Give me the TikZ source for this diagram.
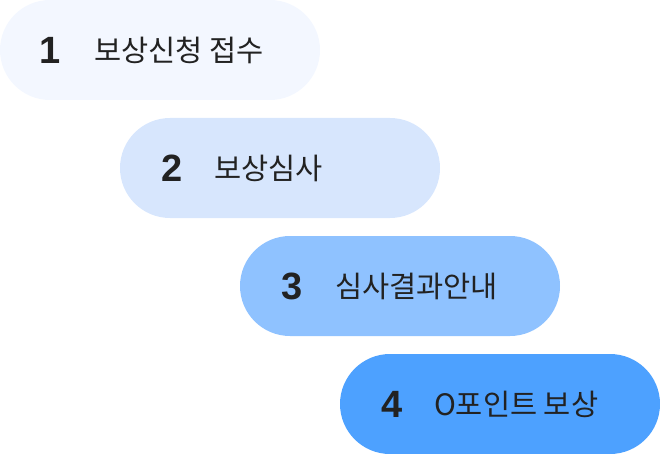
\documentclass[tikz,border=0pt]{standalone}
\usepackage{fontspec}
\setmainfont{Noto Sans CJK KR}
\newfontfamily\numfont{Liberation Sans}
\usetikzlibrary{positioning}
\definecolor{stepA}{HTML}{F3F7FF}
\definecolor{stepB}{HTML}{D7E6FD}
\definecolor{stepC}{HTML}{8FC2FF}
\definecolor{stepD}{HTML}{4DA1FF}
\definecolor{ink}{HTML}{222222}
\begin{document}
\begin{tikzpicture}[%
        x=1pt,y=-1pt,%
        pill/.style={%
            rectangle,%
            rounded corners=50pt,%
            minimum width=320pt,%
            minimum height=100pt,%
            inner sep=0pt,%
            draw=none%
        },%
        num/.style={%
            text=ink,%
            inner sep=0pt,%
            font=\numfont\bfseries\fontsize{38}{38}\selectfont%
        },%
        label/.style={%
            text=ink,%
            anchor=west,%
            inner sep=0pt,%
            font=\fontsize{29.5}{29.5}\selectfont%
        }%
    ]
    \useasboundingbox (0,0) rectangle (660,454);
    \node (pill1) at (160, 50) [pill,fill=stepA]{};
    \node (pill2) at (280,168) [pill,fill=stepB]{};
    \node (pill3) at (400,286) [pill,fill=stepC]{};
    \node (pill4) at (500,404) [pill,fill=stepD]{};
    \node (num1) at ([xshift=50pt]pill1.west) [num]{1};
    \node (num2) at ([xshift=52pt]pill2.west) [num]{2};
    \node (num3) at ([xshift=52pt]pill3.west) [num]{3};
    \node (num4) at ([xshift=52pt]pill4.west) [num]{4};
    \node (text1) at ([xshift=94pt]pill1.west) [label]{보상신청 접수};
    \node (text2) at ([xshift=94pt]pill2.west) [label]{보상심사};
    \node (text3) at ([xshift=95pt]pill3.west) [label]{심사결과안내};
    \node (text4) at ([xshift=94pt]pill4.west) [label]{O포인트 보상};
\end{tikzpicture}
\end{document}
